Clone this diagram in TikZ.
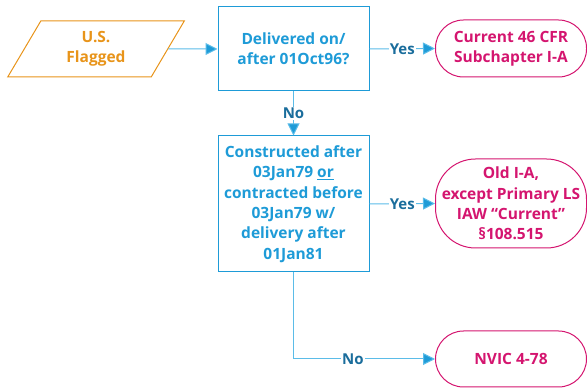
\documentclass[tikz,border=0pt]{standalone}
\usepackage{fontspec}
\setmainfont{Open Sans}
\usetikzlibrary{shapes.geometric,arrows.meta}
\definecolor{cblue}{HTML}{1E9BD7}
\definecolor{lblue}{HTML}{5BBCE8}
\definecolor{dblue}{HTML}{1A6D9C}
\definecolor{cmag}{HTML}{D4156F}
\definecolor{corange}{HTML}{E8941A}
\tikzset{
  base/.style={font=\bfseries\fontsize{15.5}{20.4}\selectfont, align=center, line width=1pt, inner sep=0pt},
  inbox/.style={base, draw=corange, text=corange, trapezium, trapezium left angle=63.4, trapezium right angle=116.6, trapezium stretches=true, minimum width=178pt, minimum height=56pt},
  decbox/.style={base, draw=cblue, text=cblue, minimum width=151pt},
  term/.style={base, draw=cmag, text=cmag, minimum width=151pt},
  conn/.style={draw=lblue, line width=1pt, -{Triangle[length=12pt,width=12pt,fill=cblue]}},
  lbl/.style={font=\bfseries\fontsize{15}{16}\selectfont, text=dblue, fill=white, inner sep=1pt}
}
\begin{document}
\begin{tikzpicture}[x=1pt,y=-1pt]
\useasboundingbox (0,0) rectangle (587,390);
\node[inbox] (in) at (96,49) {U.S.\\Flagged};
\node[decbox, minimum height=84pt] (d1) at (293.5,49) {Delivered on/\\after 01Oct96?};
\node[term, minimum height=57pt, rounded corners=28pt] (t1) at (511,48.5) {Current 46 CFR\\Subchapter I-A};
\node[decbox, minimum height=136pt] (d2) at (293.5,204) {Constructed after\\03Jan79 \underline{or}\\contracted before\\03Jan79 w/\\delivery after\\01Jan81};
\node[term, minimum height=89pt, rounded corners=40pt] (t2) at (511,203.5) {Old I-A,\\except Primary LS\\IAW “Current”\\§108.515};
\node[term, minimum height=56pt, rounded corners=28pt] (t3) at (511,359) {NVIC 4-78};
\draw[conn] (in.east) -- (d1.west);
\draw[conn] (d1.east) -- node[lbl] {Yes} (t1.west);
\draw[conn] (d1.south) -- node[lbl] {No} (d2.north);
\draw[conn] (d2.east) -- node[lbl] {Yes} (t2.west);
\draw[conn] (d2.south) |- node[lbl, pos=0.71] {No} (t3.west);
\end{tikzpicture}
\end{document}
